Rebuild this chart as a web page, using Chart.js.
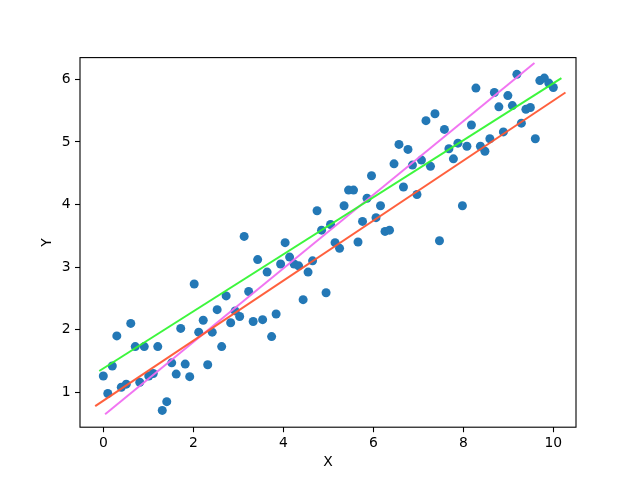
<!DOCTYPE html>
<html>
<head>
<meta charset="utf-8">
<script src="https://cdn.jsdelivr.net/npm/chart.js@4/dist/chart.umd.min.js"></script>
<style>
  html, body { margin: 0; padding: 0; background: #fff; }
  #wrap { width: 640px; height: 480px; }
</style>
</head>
<body>
<div id="wrap"><canvas id="chart" width="640" height="480"></canvas></div>
<script>
// sample points
const xs = [0, 0.10, 0.20, 0.30, 0.40, 0.51, 0.61, 0.71, 0.81, 0.91,
    1.01, 1.11, 1.21, 1.31, 1.41, 1.52, 1.62, 1.72, 1.82, 1.92,
    2.02, 2.12, 2.22, 2.32, 2.42, 2.53, 2.63, 2.73, 2.83, 2.93,
    3.03, 3.13, 3.23, 3.33, 3.43, 3.54, 3.64, 3.74, 3.84, 3.94,
    4.04, 4.14, 4.24, 4.34, 4.44, 4.55, 4.65, 4.75, 4.85, 4.95,
    5.05, 5.15, 5.25, 5.35, 5.45, 5.56, 5.66, 5.76, 5.86, 5.96,
    6.06, 6.16, 6.26, 6.36, 6.46, 6.57, 6.67, 6.77, 6.87, 6.97,
    7.07, 7.17, 7.27, 7.37, 7.47, 7.58, 7.68, 7.78, 7.88, 7.98,
    8.08, 8.18, 8.28, 8.38, 8.48, 8.59, 8.69, 8.79, 8.89, 8.99,
    9.09, 9.19, 9.29, 9.39, 9.49, 9.60, 9.70, 9.80, 9.90, 10.0];

const ys = [1.26, 0.98, 1.42, 1.90, 1.08, 1.13, 2.10, 1.73, 1.16, 1.73,
    1.26, 1.30, 1.73, 0.71, 0.85, 1.47, 1.29, 2.02, 1.45, 1.25,
    2.73, 1.96, 2.15, 1.44, 1.96, 2.32, 1.73, 2.54, 2.11, 2.30,
    2.21, 3.49, 2.61, 2.13, 3.12, 2.16, 2.92, 1.89, 2.25, 3.05,
    3.39, 3.16, 3.05, 3.02, 2.48, 2.92, 3.10, 3.90, 3.59, 2.59,
    3.68, 3.39, 3.30, 3.98, 4.23, 4.23, 3.40, 3.73, 4.10, 4.46,
    3.79, 3.98, 3.57, 3.59, 4.65, 4.96, 4.28, 4.88, 4.63, 4.16,
    4.71, 5.34, 4.61, 5.45, 3.42, 5.20, 4.89, 4.73, 4.98, 3.98,
    4.93, 5.27, 5.86, 4.93, 4.85, 5.05, 5.79, 5.56, 5.16, 5.74,
    5.58, 6.08, 5.30, 5.52, 5.55, 5.05, 5.98, 6.02, 5.94, 5.87];

// fitted lines, end points only
const orangeX = [-0.18, 10.27];
const orangeY = [0.78, 5.79];
const greenX = [-0.09, 10.18];
const greenY = [1.34, 6.02];
const violetX = [0.04, 9.58];
const violetY = [0.65, 6.26];

const xTicks = [0, 2, 4, 6, 8, 10];
const yTicks = [1, 2, 3, 4, 5, 6];

function pts(a, b) {
    return a.map((v, i) => ({x: v, y: b[i]}));
}

function lineSet(a, b, color) {
    return {
        type: 'line',
        data: pts(a, b),
        borderColor: color,
        borderWidth: 2,
        pointRadius: 0,
        fill: false,
        order: 0
    };
}

const frame = {
    id: 'frame',
    afterDatasetsDraw(chart) {
        const {ctx, chartArea: a} = chart;
        ctx.save();
        ctx.strokeStyle = '#000';
        ctx.lineWidth = 1.1;
        ctx.strokeRect(a.left, a.top, a.right - a.left, a.bottom - a.top);
        ctx.restore();
    }
};

const font = {family: 'DejaVu Sans', size: 13.9};

new Chart(document.getElementById('chart'), {
    type: 'scatter',
    data: {
        datasets: [
            lineSet(orangeX, orangeY, 'rgba(255, 87, 51, 0.95)'),
            lineSet(greenX, greenY, 'rgba(51, 245, 51, 0.95)'),
            lineSet(violetX, violetY, 'rgba(240, 110, 240, 0.95)'),
            {
                data: pts(xs, ys),
                backgroundColor: '#2378b6',
                borderWidth: 0,
                pointRadius: 4.5,
                order: 1
            }
        ]
    },
    options: {
        responsive: false,
        animation: false,
        devicePixelRatio: 1,
        layout: {padding: {top: 57.6, right: 64, left: 0, bottom: 0}},
        plugins: {legend: {display: false}, tooltip: {enabled: false}},
        scales: {
            x: {
                type: 'linear',
                min: -0.518,
                max: 10.504,
                afterBuildTicks: (s) => { s.ticks = xTicks.map(v => ({value: v})); },
                afterFit: (s) => { s.height = 52.8; },
                grid: {display: true, drawOnChartArea: false, drawTicks: true, tickLength: 5, color: '#000', tickWidth: 1.1},
                border: {display: false},
                ticks: {color: '#000', font: font, padding: 3, maxRotation: 0},
                title: {display: true, text: 'X', color: '#000', font: font, padding: {top: 0, bottom: 9}}
            },
            y: {
                type: 'linear',
                min: 0.442,
                max: 6.347,
                afterBuildTicks: (s) => { s.ticks = yTicks.map(v => ({value: v})); },
                afterFit: (s) => { s.width = 80; },
                grid: {display: true, drawOnChartArea: false, drawTicks: true, tickLength: 5, color: '#000', tickWidth: 1.1},
                border: {display: false},
                ticks: {color: '#000', font: font, padding: 4.5},
                title: {display: true, text: 'Y', color: '#000', font: font, padding: {top: 39, bottom: 0}}
            }
        }
    },
    plugins: [frame]
});
</script>
</body>
</html>
